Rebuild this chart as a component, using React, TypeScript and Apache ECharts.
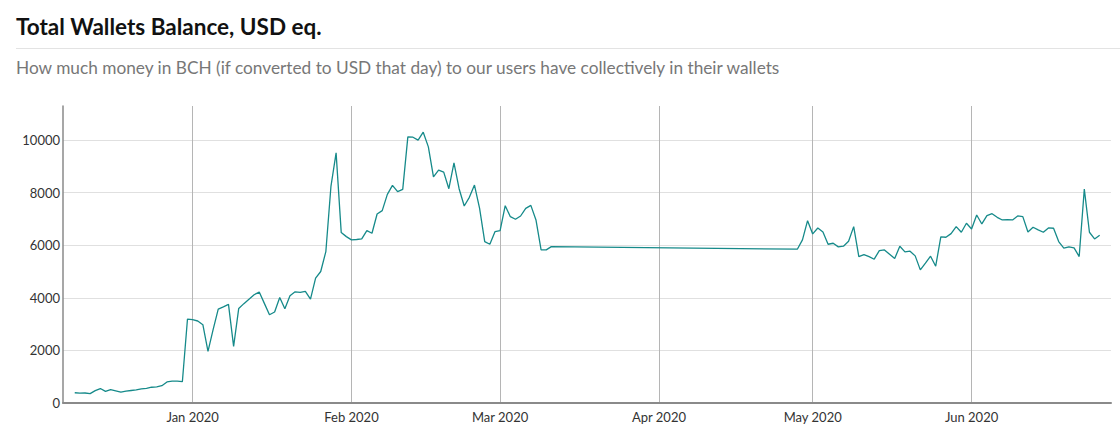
import { useEffect, useRef } from 'react';
import * as echarts from 'echarts';

// Daily balance, USD eq. Each array runs on consecutive days from its start date.
// Dec 9 2019 .. Dec 31 2019
const decValues = [
  390, 375, 380, 355, 470, 550, 440, 510, 460, 410, 450, 475, 500, 540, 560, 600,
  610, 660, 800, 830, 830, 810, 3195,
];
// Jan 1 .. Jan 31 2020
const janValues = [
  3170, 3120, 2980, 1966, 2790, 3575, 3660, 3750, 2156, 3598, 3780, 3950, 4118, 4220,
  3790, 3359, 3461, 4016, 3586, 4080, 4231, 4206, 4244, 3953, 4750, 5003, 5762, 8254,
  9518, 6483, 6330,
];
// Feb 1 .. Feb 29 2020
const febValues = [
  6205, 6220, 6243, 6559, 6458, 7191, 7318, 7939, 8281, 8039, 8128, 10125, 10113,
  10000, 10303, 9746, 8607, 8861, 8785, 8152, 9139, 8152, 7495, 7825, 8292, 7407,
  6141, 6040, 6520,
];
// Mar 1 .. Mar 11 2020 (no data after that until late April)
const marValues = [6560, 7508, 7090, 6990, 7115, 7407, 7520, 6964, 5825, 5825, 5951];
// Apr 28 .. May 31 2020
const aprMayValues = [
  5851, 6205, 6938, 6433, 6660, 6508, 6040, 6078, 5939, 5965, 6154, 6711, 5572, 5648,
  5572, 5471, 5800, 5825, 5661, 5496, 5965, 5749, 5775, 5598, 5066, 5319, 5585, 5205,
  6319, 6306, 6445, 6711, 6496, 6837,
];
// Jun 1 .. Jun 26 2020
const junValues = [
  6622, 7153, 6812, 7128, 7204, 7065, 6964, 6976, 6964, 7116, 7090, 6508, 6686, 6585,
  6496, 6660, 6648, 6141, 5889, 5939, 5901, 5572, 8140, 6496, 6243, 6382,
];

const monthNames = ['Jan', 'Feb', 'Mar', 'Apr', 'May', 'Jun', 'Jul', 'Aug', 'Sep', 'Oct', 'Nov', 'Dec'];
const monthTicks = [
  new Date(2020, 0, 1).getTime(),
  new Date(2020, 1, 1).getTime(),
  new Date(2020, 2, 1).getTime(),
  new Date(2020, 3, 1).getTime(),
  new Date(2020, 4, 1).getTime(),
  new Date(2020, 5, 1).getTime(),
];
const yTicks = [0, 2000, 4000, 6000, 8000, 10000];

const run = (y: number, m: number, d: number, values: number[]) =>
  values.map((v, i) => [new Date(y, m, d + i).getTime(), v]);

const seriesData = [
  ...run(2019, 11, 9, decValues),
  ...run(2020, 0, 1, janValues),
  ...run(2020, 1, 1, febValues),
  ...run(2020, 2, 1, marValues),
  ...run(2020, 3, 28, aprMayValues),
  ...run(2020, 5, 1, junValues),
];

const FONT = 'Lato, "Noto Sans", sans-serif';

export default function App() {
  const chartRef = useRef<HTMLDivElement>(null);

  useEffect(() => {
    if (!chartRef.current) return;
    const chart = echarts.init(chartRef.current, undefined, { renderer: 'svg' });

    const option: echarts.EChartsOption = {
      animation: false,
      backgroundColor: 'transparent',
      grid: { left: 63, right: 9, top: 106, bottom: 40, containLabel: false },
      xAxis: {
        type: 'value',
        min: new Date(2019, 11, 6, 17).getTime(),
        max: new Date(2020, 5, 28, 5).getTime(),
        axisLine: { show: true, onZero: false, lineStyle: { color: '#8a8a8a', width: 2 } },
        axisTick: { show: false, customValues: monthTicks },
        axisLabel: {
          customValues: monthTicks,
          color: '#333',
          fontFamily: FONT,
          fontSize: 13,
          margin: 7,
          formatter: (val: number) => {
            const d = new Date(val);
            return `${monthNames[d.getMonth()]} ${d.getFullYear()}`;
          },
        },
        splitLine: { show: true, lineStyle: { color: '#b5b5b5', width: 1 } },
      },
      yAxis: {
        type: 'value',
        min: 0,
        max: 11300,
        axisLine: { show: true, lineStyle: { color: '#8a8a8a', width: 1.5 } },
        axisTick: { show: false, customValues: yTicks },
        axisLabel: {
          customValues: yTicks,
          color: '#333',
          fontFamily: FONT,
          fontSize: 13,
          margin: 3,
          formatter: (val: number) => String(val),
        },
        splitLine: { show: true, lineStyle: { color: '#e0e0e0', width: 1 } },
      },
      series: [
        {
          type: 'line',
          data: seriesData,
          symbol: 'none',
          showSymbol: false,
          silent: true,
          lineStyle: { color: '#168a8a', width: 1.3 },
        },
      ],
    };

    chart.setOption(option);
    return () => chart.dispose();
  }, []);

  return (
    <div style={{ position: 'fixed', inset: 0, background: '#fff', overflow: 'hidden', fontFamily: FONT }}>
      <div ref={chartRef} style={{ position: 'absolute', left: 0, top: 0, width: 1120, height: 443 }} />
      <div
        style={{
          position: 'absolute',
          left: 16,
          top: 14,
          fontSize: 22.5,
          lineHeight: '26px',
          fontWeight: 700,
          color: '#111',
          whiteSpace: 'nowrap',
        }}
      >
        Total Wallets Balance, USD eq.
      </div>
      <div style={{ position: 'absolute', left: 16, right: 0, top: 48, height: 1, background: '#e3e3e3' }} />
      <div
        style={{
          position: 'absolute',
          left: 16,
          top: 57,
          fontSize: 17.25,
          lineHeight: '22px',
          color: '#777',
          whiteSpace: 'nowrap',
        }}
      >
        How much money in BCH (if converted to USD that day) to our users have collectively in their wallets
      </div>
    </div>
  );
}
